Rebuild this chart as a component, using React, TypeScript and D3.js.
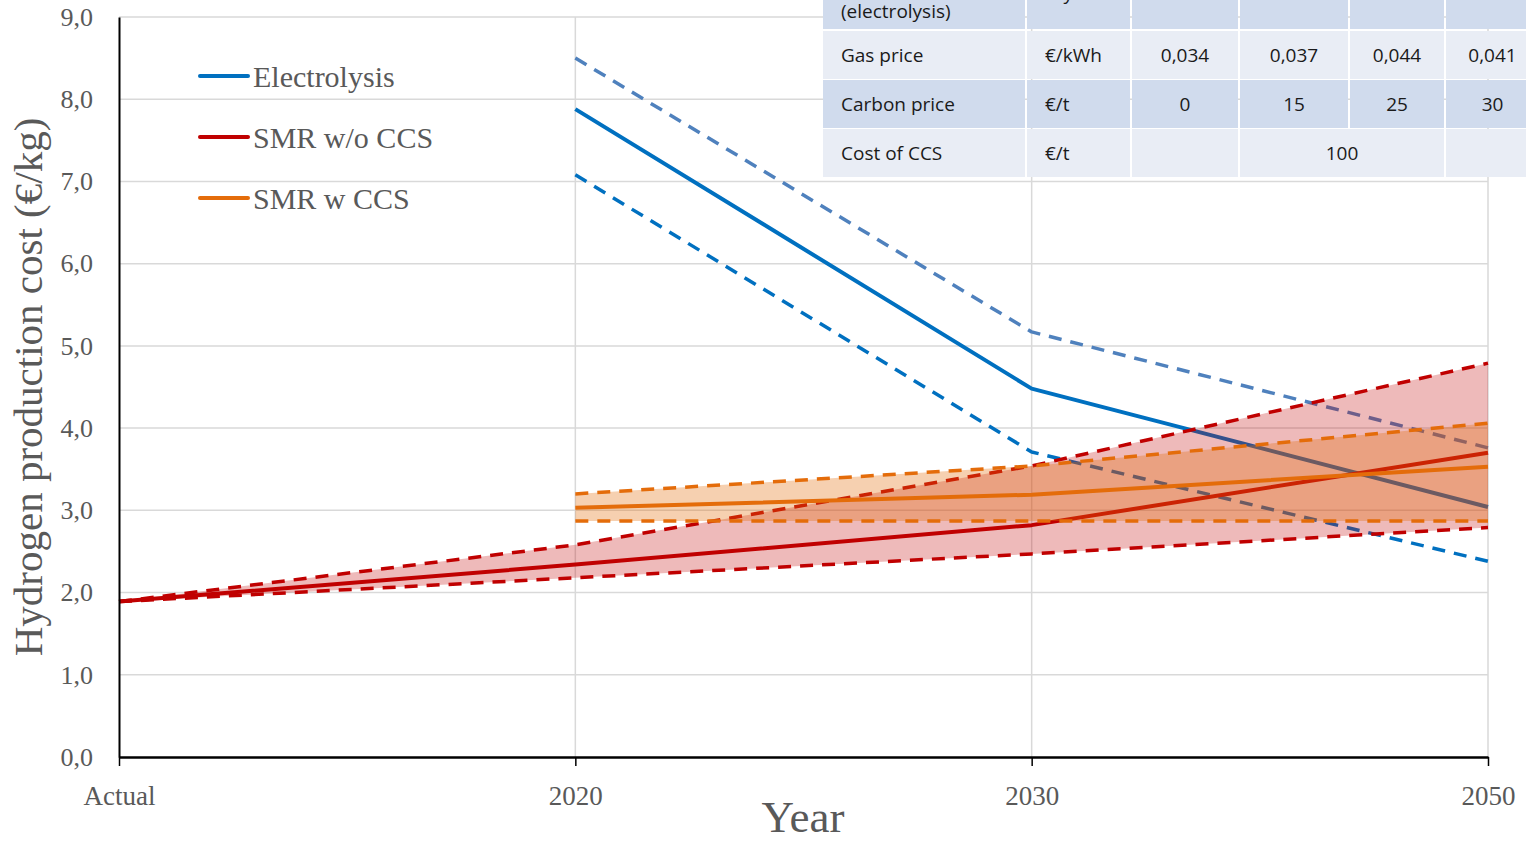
import React, { useEffect, useRef } from "react";
import * as d3 from "d3";

// categories on the x axis
const categories = ["Actual", "2020", "2030", "2050"];

// Electrolysis (central, high, low)
const elecMid = [null, 7.88, 4.48, 3.04];
const elecHigh = [null, 8.5, 5.17, 3.76];
const elecLow = [null, 7.08, 3.71, 2.38];

// SMR without CCS
const smrMid = [1.89, 2.34, 2.82, 3.7];
const smrHigh = [1.89, 2.58, 3.54, 4.79];
const smrLow = [1.89, 2.18, 2.47, 2.79];

// SMR with CCS
const ccsMid = [null, 3.03, 3.19, 3.53];
const ccsHigh = [null, 3.2, 3.54, 4.06];
const ccsLow = [null, 2.87, 2.87, 2.87];

const yTicks = [0, 1, 2, 3, 4, 5, 6, 7, 8, 9];

const legendItems = [
  { name: "Electrolysis", color: "#0070c0" },
  { name: "SMR w/o CCS", color: "#c00000" },
  { name: "SMR w CCS", color: "#e46c0a" },
];

// assumptions table (top row is cut off in the original)
const tableRows = [
  ["Full load hours|(electrolysis)", "h/y", "", "5500", "5500", "5750"],
  ["Gas price", "€/kWh", "0,034", "0,037", "0,044", "0,041"],
  ["Carbon price", "€/t", "0", "15", "25", "30"],
  ["Cost of CCS", "€/t", "", "100", "", ""],
];

const W = 1526;
const H = 842;

const App = () => {
  const svgRef = useRef(null);

  useEffect(() => {
    const marginLeft = 119;
    const marginRight = 38;
    const marginTop = 17;
    const marginBottom = 85;

    const x = d3
      .scalePoint()
      .domain(categories)
      .range([marginLeft, W - marginRight]);
    const y = d3
      .scaleLinear()
      .domain([0, 9])
      .range([H - marginBottom, marginTop]);

    const fmt = (v) => d3.format(".1f")(v).replace(".", ",");

    const svg = d3.select(svgRef.current);
    svg.selectAll("*").remove();

    const serif = "'Liberation Serif', 'DejaVu Serif', serif";

    // grid
    const grid = svg.append("g");
    grid
      .selectAll("line.h")
      .data(yTicks.filter((d) => d > 0))
      .join("line")
      .attr("x1", marginLeft)
      .attr("x2", W - marginRight)
      .attr("y1", (d) => y(d))
      .attr("y2", (d) => y(d))
      .attr("stroke", "#d9d9d9")
      .attr("stroke-width", 1.5);
    grid
      .selectAll("line.v")
      .data(categories.slice(1))
      .join("line")
      .attr("x1", (d) => x(d))
      .attr("x2", (d) => x(d))
      .attr("y1", y(9))
      .attr("y2", y(0))
      .attr("stroke", "#d9d9d9")
      .attr("stroke-width", 1.5);

    const toPts = (arr) =>
      categories
        .map((c, i) => ({ c, v: arr[i] }))
        .filter((d) => d.v !== null);

    const line = d3
      .line()
      .x((d) => x(d.c))
      .y((d) => y(d.v));

    const bandArea = (hi, lo) =>
      d3
        .area()
        .x((d) => x(d.c))
        .y0((d) => y(d.lo))
        .y1((d) => y(d.hi))(
        categories
          .map((c, i) => ({ c, hi: hi[i], lo: lo[i] }))
          .filter((d) => d.hi !== null)
      );

    const drawLine = (arr, color, dashed) => {
      svg
        .append("path")
        .attr("d", line(toPts(arr)))
        .attr("fill", "none")
        .attr("stroke", color)
        .attr("stroke-width", dashed ? 3.5 : 4)
        .attr("stroke-dasharray", dashed ? "13,9" : null)
        .attr("stroke-linejoin", "round");
    };

    // electrolysis
    drawLine(elecHigh, "#4f81bd", true);
    drawLine(elecLow, "#0070c0", true);
    drawLine(elecMid, "#0070c0", false);

    // SMR w/o CCS
    svg
      .append("path")
      .attr("d", bandArea(smrHigh, smrLow))
      .attr("fill", "rgba(192,0,0,0.27)");
    drawLine(smrHigh, "#c00000", true);
    drawLine(smrLow, "#c00000", true);
    drawLine(smrMid, "#c00000", false);

    // SMR w CCS
    svg
      .append("path")
      .attr("d", bandArea(ccsHigh, ccsLow))
      .attr("fill", "rgba(228,108,10,0.32)");
    drawLine(ccsHigh, "#e46c0a", true);
    drawLine(ccsLow, "#e46c0a", true);
    drawLine(ccsMid, "#e46c0a", false);

    // axes
    const yAxis = svg
      .append("g")
      .attr("transform", `translate(${marginLeft},0)`)
      .call(
        d3
          .axisLeft(y)
          .tickValues(yTicks)
          .tickSize(0)
          .tickPadding(26)
          .tickFormat(fmt)
      );
    yAxis.select(".domain").attr("stroke", "#000").attr("stroke-width", 2);
    yAxis
      .selectAll("text")
      .attr("font-family", serif)
      .attr("font-size", 26)
      .attr("fill", "#595959");

    const xAxis = svg
      .append("g")
      .attr("transform", `translate(0,${y(0)})`)
      .call(d3.axisBottom(x).tickSize(9).tickSizeOuter(0).tickPadding(20));
    xAxis.select(".domain").attr("stroke", "#000").attr("stroke-width", 2.5);
    xAxis.selectAll(".tick line").attr("stroke", "#000").attr("stroke-width", 1.5);
    xAxis
      .selectAll("text")
      .attr("font-family", serif)
      .attr("font-size", 27)
      .attr("fill", "#595959");

    // axis titles
    svg
      .append("text")
      .attr("transform", `translate(42,${(y(0) + y(9)) / 2}) rotate(-90)`)
      .attr("text-anchor", "middle")
      .attr("font-family", serif)
      .attr("font-size", 41)
      .attr("fill", "#595959")
      .text("Hydrogen production cost (€/kg)");
    svg
      .append("text")
      .attr("x", 803)
      .attr("y", 832)
      .attr("text-anchor", "middle")
      .attr("font-family", serif)
      .attr("font-size", 45)
      .attr("fill", "#595959")
      .text("Year");

    // legend
    const lg = svg
      .append("g")
      .selectAll("g")
      .data(legendItems)
      .join("g")
      .attr("transform", (d, i) => `translate(200,${76 + i * 61})`);
    lg.append("line")
      .attr("x1", 0)
      .attr("x2", 48)
      .attr("stroke", (d) => d.color)
      .attr("stroke-width", 4)
      .attr("stroke-linecap", "round");
    lg.append("text")
      .attr("x", 53)
      .attr("dy", "0.35em")
      .attr("font-family", serif)
      .attr("font-size", 30)
      .attr("fill", "#595959")
      .text((d) => d.name);

    // table
    const colEdges = [822, 1026, 1131, 1239, 1349, 1445, 1540];
    const rowTops = [-19, 31, 80, 129];
    const rowH = 48;
    const fills = ["#d0dbed", "#e9edf5", "#d0dbed", "#e9edf5"];
    const sans = "'Open Sans', 'Noto Sans', sans-serif";
    const tbl = svg.append("g");
    tableRows.forEach((row, ri) => {
      const merged = ri === 3;
      const cells = merged
        ? [
            [0, 1],
            [1, 2],
            [2, 3],
            [3, 5],
            [5, 6],
          ]
        : row.map((_, ci) => [ci, ci + 1]);
      const texts = merged
        ? [row[0], row[1], row[2], row[3], row[5]]
        : row;
      cells.forEach(([a, b], k) => {
        const x0 = colEdges[a] + 1;
        const x1 = colEdges[b] - 1;
        tbl
          .append("rect")
          .attr("x", x0)
          .attr("y", rowTops[ri])
          .attr("width", x1 - x0)
          .attr("height", rowH)
          .attr("fill", fills[ri]);
        const txt = texts[k];
        if (!txt) return;
        const lines = txt.split("|");
        let cy = rowTops[ri] + rowH / 2;
        if (ri === 0) cy += lines.length > 1 ? -6 : -12;
        const tx = a < 2 ? x0 + 18 : (x0 + x1) / 2;
        const t = tbl
          .append("text")
          .attr("font-family", sans)
          .attr("font-size", 19)
          .attr("fill", "#1a1a1a")
          .attr("text-anchor", a < 2 ? "start" : "middle")
          .attr("x", tx);
        lines.forEach((l, li) => {
          t.append("tspan")
            .attr("x", tx)
            .attr("y", cy + (li - (lines.length - 1) / 2) * 24)
            .attr("dy", "0.35em")
            .text(l);
        });
      });
    });
  }, []);

  return (
    <svg
      ref={svgRef}
      width={W}
      height={H}
      style={{ position: "absolute", left: 0, top: 0, background: "#fff" }}
    />
  );
};

export default App;
